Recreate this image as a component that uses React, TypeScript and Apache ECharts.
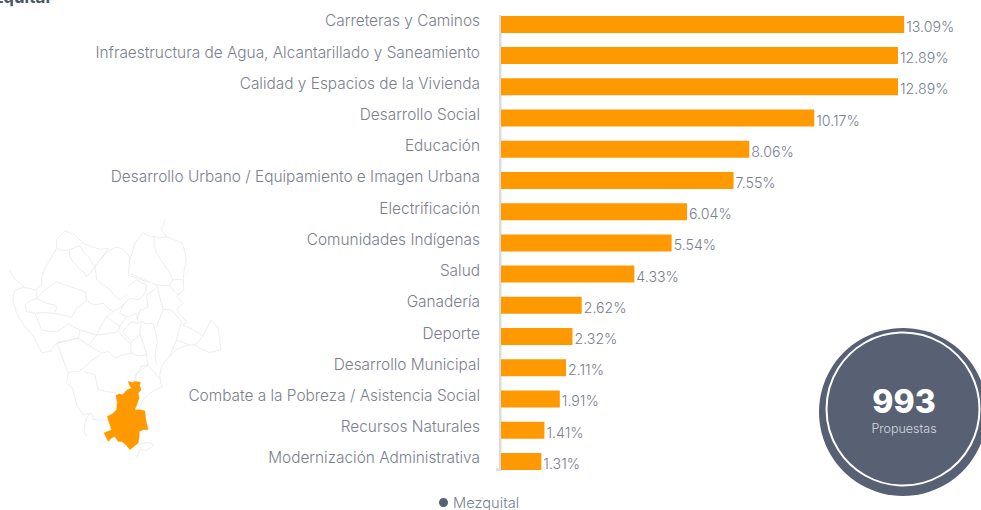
import React, { useEffect, useRef } from "react";
import * as echarts from "echarts";

const categories = [
  "Carreteras y Caminos",
  "Infraestructura de Agua, Alcantarillado y Saneamiento",
  "Calidad y Espacios de la Vivienda",
  "Desarrollo Social",
  "Educación",
  "Desarrollo Urbano / Equipamiento e Imagen Urbana",
  "Electrificación",
  "Comunidades Indígenas",
  "Salud",
  "Ganadería",
  "Deporte",
  "Desarrollo Municipal",
  "Combate a la Pobreza / Asistencia Social",
  "Recursos Naturales",
  "Modernización Administrativa",
];
const values = [13.09, 12.89, 12.89, 10.17, 8.06, 7.55, 6.04, 5.54, 4.33, 2.62, 2.32, 2.11, 1.91, 1.41, 1.31];
const seriesName = "Mezquital";
const totalValue = "993";
const totalLabel = "Propuestas";

const FONT = "Inter";
const TEXT = "#7a8090";
const SLATE = "#586174";
const ORANGE = "#ff9900";

const mapLines =
  "M30 182L42 205L50 212L62 222L72 232L58 236L45 240L38 265L44 290L50 310L62 330L75 350L90 368L105 385L115 410L125 428L150 425L160 410L172 400L180 425L190 450L205 490L200 520L218 535L225 565L232 590L250 615L272 610L262 622L255 640L252 665L260 680" +
  "M275 610L280 628L300 632L322 630" +
  "M497 28L490 45L485 60L500 80L480 84L465 80L445 78L430 68L415 85L405 100L398 125L390 150" +
  "M500 80L525 90L548 100L555 125L560 150L553 180L550 210L552 240L530 258L550 280L530 300L545 318L560 335L550 345L580 360L610 378L622 352L635 330L655 355L660 390L663 420L630 428L605 418L585 405L568 405L545 412L530 420L510 440L495 455L485 470L480 495L482 520L488 530L468 540L450 550L430 570L415 600" +
  "M415 705L430 700L445 698L462 705L450 715L440 722L420 720L410 745" +
  "M125 225L125 200L135 175L150 150L170 115L170 90L195 62L212 70L225 75L240 90L250 100L275 110L300 118L325 115L312 135L300 150L320 128L345 112L365 115L380 128L390 145L388 170L385 195L412 205L440 215" +
  "M170 115L190 122L210 120L225 112L240 108L250 125L265 140L275 155L285 170L272 188L260 200L250 185L240 180L228 165L215 150L208 135L210 120" +
  "M300 150L285 170L288 190L290 210L310 225L330 240L345 258L360 270L380 255" +
  "M125 225L115 232L108 240L90 236L72 232M108 240L110 265L135 240L170 215L195 225L225 235L255 245L260 270L272 280L285 285L310 280L325 295L340 305L358 295L375 280" +
  "M75 285L92 272L110 265L138 280L165 285L172 296L160 310L190 315L215 322L225 305L230 295L245 285L258 272" +
  "M75 285L80 305L105 310L115 335L125 360L148 364L170 365L188 355L205 342L222 352L240 360L235 385L205 392L172 398M105 310L132 308L160 310" +
  "M290 375L305 345L320 320L340 335L360 350L355 365L322 372L290 375M340 305L320 320" +
  "M360 350L370 335L380 320L395 318L410 310L412 330L420 300L432 298L445 290L442 272L440 255L455 245L470 235" +
  "M375 280L365 295L360 310L380 320" +
  "M385 230L398 218L410 210L425 218L440 225L438 238L435 250L425 262L415 270L400 266L385 268L375 280" +
  "M390 190L430 208L470 225L475 240L482 270L490 300L505 298L520 305" +
  "M465 80L462 105L470 130L490 160L510 190L520 210L535 208L550 210M520 210L512 220L510 228L522 242L535 255M470 225L490 226L510 228" +
  "M240 360L265 368L290 375L278 392L265 405L285 418L305 430L325 425L345 445L370 435L395 430L418 438L440 435L442 450L445 465L428 478L410 490L405 500L410 510L385 517" +
  "M250 475L275 452L300 435M250 475L235 485L220 484L205 490M250 485L268 490L285 495L290 518L295 540L322 545L350 550" +
  "M368 365L382 350L395 335L410 340L425 335L422 355L420 375L408 385L395 395L382 382L368 365M395 395L392 412L395 430M420 375L432 405L440 435M355 365L372 382L390 400" +
  "M425 335L442 342L460 340L465 360L470 380L472 400L468 420L465 440L470 465M490 300L480 325L470 350" +
  "M520 305L532 320L545 335L538 362L530 390L520 415L510 440M420 470L445 465L462 485L482 510M405 510L412 490L425 470" +
  "M530 390L550 398L568 405M172 400L205 392L235 385L250 395L265 405M585 405L598 392L610 378";
const mapHighlight =
  "M385 515L398 518L405 514L422 517L419 528L424 540L415 550L418 565L412 582L405 600L420 600L435 603L438 630L445 660L430 660L418 665L418 682L415 700L402 710L390 720L378 705L365 695L355 695L345 680L335 685L325 695L312 670L335 660L328 640L322 620L338 612L350 600L352 578L348 557L358 552L368 555L382 540L395 535L388 525Z";

echarts.graphic.registerShape("mapLines", echarts.graphic.extendPath(mapLines, {}) as any);
echarts.graphic.registerShape("mapHighlight", echarts.graphic.extendPath(mapHighlight, {}) as any);

export default function App() {
  const ref = useRef<HTMLDivElement>(null);
  useEffect(() => {
    const chart = echarts.init(ref.current!, undefined, { renderer: "svg" });
    chart.setOption({
      animation: false,
      textStyle: { fontFamily: FONT },
      legend: {
        left: 434,
        top: 490,
        itemWidth: 9,
        itemHeight: 9,
        itemGap: 0,
        data: [{ name: seriesName, icon: "circle", itemStyle: { color: SLATE } }],
        textStyle: { color: TEXT, fontSize: 14.7, fontWeight: 300, fontFamily: FONT },
      },
      grid: { left: 501, right: 18, top: 8.8, bottom: 33 },
      xAxis: { type: "value", min: 0, max: 15, show: false },
      yAxis: {
        type: "category",
        inverse: true,
        data: categories,
        axisLine: { show: false },
        axisTick: { show: false },
        axisLabel: {
          margin: 21,
          color: TEXT,
          fontSize: 15.4,
          fontWeight: 300,
          fontFamily: FONT,
          verticalAlign: "bottom",
          lineHeight: 7,
        },
      },
      series: [
        {
          type: "bar",
          name: seriesName,
          data: values,
          barWidth: 17,
          itemStyle: { color: ORANGE },
          label: {
            show: true,
            position: "right",
            distance: 2,
            offset: [0, 2],
            color: TEXT,
            fontSize: 14.2,
            fontWeight: 300,
            fontFamily: FONT,
            formatter: (p: any) => `${p.value.toFixed(2)}%`,
          },
        },
      ],
      graphic: [
        { type: "rect", shape: { x: 499, y: 15, width: 2.5, height: 456 }, style: { fill: "#dcdcdc" }, silent: true },
        { type: "rect", shape: { x: 496, y: 468.5, width: 4, height: 2.5 }, style: { fill: "#dcdcdc" }, silent: true },
        {
          type: "text",
          x: 50,
          y: 5,
          style: { text: "Mezquital", fill: "#4f566a", font: `bold 17px ${FONT}`, textAlign: "right", textVerticalAlign: "bottom" },
        },
        {
          type: "mapLines",
          x: 0,
          y: 210,
          scaleX: 1 / 3,
          scaleY: 1 / 3,
          silent: true,
          style: { fill: "none", stroke: "#e4e4e4", lineWidth: 2 },
        },
        {
          type: "mapHighlight",
          x: 0,
          y: 210,
          scaleX: 1 / 3,
          scaleY: 1 / 3,
          silent: true,
          style: { fill: ORANGE, stroke: ORANGE, lineWidth: 1 },
        },
        { type: "circle", shape: { cx: 903, cy: 412, r: 84 }, style: { fill: SLATE }, silent: true },
        { type: "circle", shape: { cx: 903, cy: 409, r: 76.5 }, style: { fill: "none", stroke: "#ffffff", lineWidth: 2 }, silent: true },
        {
          type: "text",
          x: 904,
          y: 401,
          style: { text: totalValue, fill: "#ffffff", font: `800 32px ${FONT}`, textAlign: "center", textVerticalAlign: "middle", lineHeight: 30 },
        },
        {
          type: "text",
          x: 904,
          y: 428,
          style: { text: totalLabel, fill: "#d5d8de", font: `300 12.5px ${FONT}`, textAlign: "center", textVerticalAlign: "middle", lineHeight: 13 },
        },
      ],
    });
    return () => chart.dispose();
  }, []);
  return <div ref={ref} style={{ position: "absolute", left: 0, top: 0, width: 981, height: 510, overflow: "hidden" }} />;
}
